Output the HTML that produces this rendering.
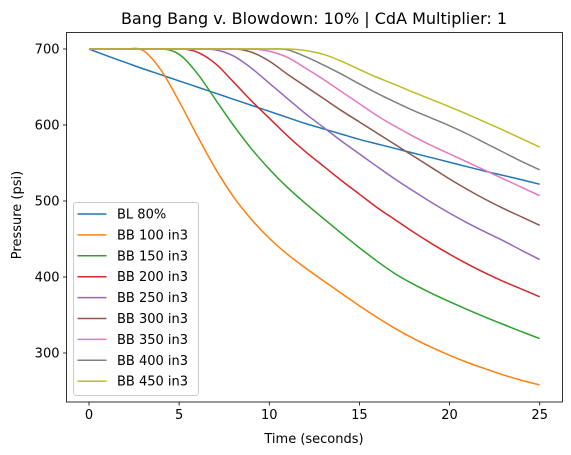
<!DOCTYPE html>
<html><head><meta charset="utf-8"><style>
html,body{margin:0;padding:0;background:#fff;}
svg{display:block;font-family:"DejaVu Sans","Liberation Sans",sans-serif;}
</style></head><body>
<svg id="chart" width="571" height="455" viewBox="0 0 571 455">
<rect x="0" y="0" width="571" height="455" fill="#fff"/>
<text x="314" y="24" font-size="16" text-anchor="middle" fill="#000">Bang Bang v. Blowdown: 10% | CdA Multiplier: 1</text>
<g id="plot"></g>
<g id="axes"></g>
<text x="314" y="443" font-size="13" text-anchor="middle">Time (seconds)</text>
<text transform="translate(21,215) rotate(-90)" font-size="13" text-anchor="middle">Pressure (psi)</text>
<g id="legend"></g>
</svg>
<script>
const times = [0,1,2,3,4,5,6,7,8,9,10,11,12,13,14,15,16,17,18,19,20,21,22,23,24,25];
const seriesNames = ["BL 80%","BB 100 in3","BB 150 in3","BB 200 in3","BB 250 in3","BB 300 in3","BB 350 in3","BB 400 in3","BB 450 in3"];
const seriesColors = ["#1f77b4","#ff7f0e","#2ca02c","#d62728","#9467bd","#8c564b","#e377c2","#7f7f7f","#bcbd22"];
const bl80 = [700,691,682.5,674,666,658,650,642,634,626,618,610,602,595,588,581,575,569,563,557,551,545,539,533.5,528,522];
const bb100 = [700,700,700,698,672,631,586,543,506,476,451,430,412,395,378.5,362,346.5,332,319,307.5,297,287.5,279,271,264,258];
const bb150 = [700,700,700,700,700,693,668,634,600,569,542,518,497,477,457.5,438.5,420.5,404,390.5,378.5,367.5,357,347,337.5,328,319];
const bb200 = [700,700,700,700,700,700,696,681,657,632,609,586,565,546,527,509,491,475,459,444,430,417,405,394,384,374];
const bb250 = [700,700,700,700,700,700,700,699,691,675,655,635,615,597,579,562,545,528.5,513,498,484,471,459,447.5,435,423];
const bb300 = [700,700,700,700,700,700,700,700,700,696,684,667,651,635,619,604,589,574,559,544,529,515,502,490,479,468];
const bb350 = [700,700,700,700,700,700,700,700,700,700,697,689,675,660,644,628,612,598,585,573,562,551,540,529,518,507];
const bb400 = [700,700,700,700,700,700,700,700,700,700,700,699,690,679,667,654,641.5,630,619,609,599,588,576,564,552,541];
const bb450 = [700,700,700,700,700,700,700,700,700,700,700,700,698,693,684,673,662.5,653,643,633.5,624,614,603.5,593,582,571];
const xTicks = [0,5,10,15,20,25];
const yTicks = [300,400,500,600,700];
const allSeries = [bl80,bb100,bb150,bb200,bb250,bb300,bb350,bb400,bb450];

const NS="http://www.w3.org/2000/svg";
const AX={l:66.5,t:32.5,r:562.5,b:402};
function xs(t){return 89+t*(539.7-89)/25;}
function ys(p){return 49+(700-p)*0.76;}
function mk(tag,attrs,parent){const e=document.createElementNS(NS,tag);for(const k in attrs)e.setAttribute(k,attrs[k]);parent.appendChild(e);return e;}

const plot=document.getElementById('plot');
allSeries.forEach((vals,si)=>{
  const pts=vals.map((v,i)=>[xs(times[i]),ys(v)]);
  let d="M"+pts[0][0].toFixed(2)+","+pts[0][1].toFixed(2);
  for(let i=0;i<pts.length-1;i++){
    const p0=pts[Math.max(0,i-1)],p1=pts[i],p2=pts[i+1],p3=pts[Math.min(pts.length-1,i+2)];
    let c1y=p1[1]+(p2[1]-p0[1])/6, c2y=p2[1]-(p3[1]-p1[1])/6;
    if(vals[i]===700&&vals[i+1]===700){c1y=p1[1];c2y=p2[1];}
    if(i>0&&vals[i-1]===700&&vals[i]===700)c1y=p1[1];
    d+=" C"+(p1[0]+(p2[0]-p0[0])/6).toFixed(2)+","+c1y.toFixed(2)+" "+(p2[0]-(p3[0]-p1[0])/6).toFixed(2)+","+c2y.toFixed(2)+" "+p2[0].toFixed(2)+","+p2[1].toFixed(2);
  }
  const path=mk('path',{d:d,fill:'none',stroke:seriesColors[si],'stroke-width':1.5},plot);
  
  
});

const axes=document.getElementById('axes');
const frame=mk('rect',{x:AX.l,y:AX.t,width:AX.r-AX.l,height:AX.b-AX.t,fill:'none',stroke:'#000','stroke-width':0.8},axes);


xTicks.forEach(t=>{
  const x=xs(t);
  mk('line',{x1:x,y1:AX.b,x2:x,y2:AX.b+3.5,stroke:'#000','stroke-width':0.8},axes);
  const tx=mk('text',{x:x,y:AX.b+17,'font-size':13,'text-anchor':'middle'},axes);
  tx.textContent=t;
  
  
});
yTicks.forEach(p=>{
  const y=ys(p);
  mk('line',{x1:AX.l-3.5,y1:y,x2:AX.l,y2:y,stroke:'#000','stroke-width':0.8},axes);
  const tx=mk('text',{x:AX.l-7,y:y+4.5,'font-size':13,'text-anchor':'end'},axes);
  tx.textContent=p;
  
  
});

const lg=document.getElementById('legend');
const box=mk('rect',{x:73.5,y:202.5,width:125,height:193,rx:2.5,fill:'#fff','fill-opacity':0.8,stroke:'#ccc','stroke-width':1},lg);


seriesNames.forEach((n,i)=>{
  const y=214+i*20.9;
  const ln=mk('line',{x1:77.5,y1:y,x2:106.5,y2:y,stroke:seriesColors[i],'stroke-width':1.5},lg);
  
  
  const tx=mk('text',{x:117,y:y+4.5,'font-size':13},lg);
  tx.textContent=n;
  
  
});
</script>
</body></html>
